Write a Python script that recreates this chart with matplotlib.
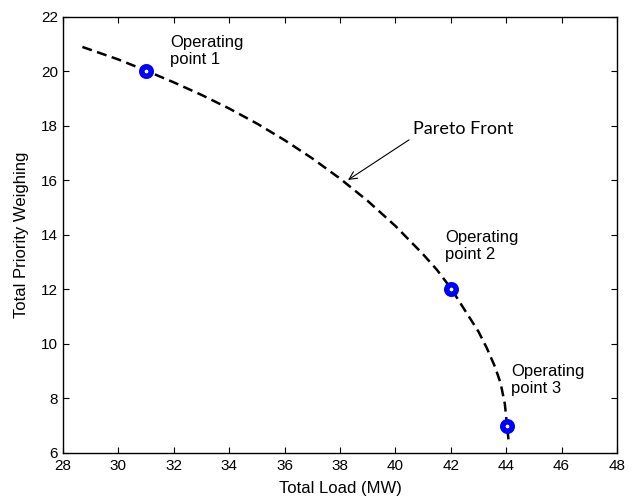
# pareto_front.py
# Pareto front of total priority weighing vs total load, three operating points.

import matplotlib
matplotlib.use('Agg')
import matplotlib.pyplot as plt

plt.rcParams['font.family'] = ['Liberation Sans', 'DejaVu Sans']

# ── Data ───────────────────────────────────────────────────────────────────────
front_load = [28.7, 30.0, 31.0, 32.0, 33.0, 34.0, 35.0, 36.0, 37.0, 38.0,
              39.0, 40.0, 41.0, 41.5, 42.0, 42.5, 43.0, 43.3, 43.6, 43.8,
              43.95, 44.03, 44.08]
front_prio = [20.90, 20.44, 20.03, 19.60, 19.14, 18.64, 18.09, 17.48, 16.81, 16.07,
              15.25, 14.33, 13.29, 12.72, 12.05, 11.25, 10.45, 9.85, 9.15, 8.55,
              7.80, 7.00, 6.50]

op_load = [31, 42, 44.03]
op_prio = [20, 12, 7]
op_labels = ['Operating\npoint 1', 'Operating\npoint 2', 'Operating\npoint 3']
op_text_xy = [(31.86, 21.34), (41.79, 14.18), (44.17, 9.27)]

x_ticks = list(range(28, 49, 2))
y_ticks = list(range(6, 23, 2))

# ── Plot ───────────────────────────────────────────────────────────────────────
fig = plt.figure(figsize=(6.32, 4.98), dpi=100)
ax = fig.add_axes([0.0997, 0.0904, 0.8766, 0.8755])

ax.plot(front_load, front_prio, color='k', lw=1.8, ls=(0, (4.0, 2.2)))
ax.plot(op_load, op_prio, ls='none', marker='o', ms=6.8, mew=4,
        mec='#0000ff', mfc='white')

for lbl, (tx, ty) in zip(op_labels, op_text_xy):
    ax.text(tx, ty, lbl, fontsize=12, ha='left', va='top')

ax.text(40.65, 17.88, 'Pareto Front', fontsize=13,
        family=['Lato', 'DejaVu Sans'], va='center', ha='left')
ax.annotate('', xy=(38.29, 16.02), xytext=(40.49, 17.49),
            arrowprops=dict(arrowstyle='->', color='k', lw=0.8,
                            shrinkA=0, shrinkB=0, mutation_scale=14))

ax.set_xlim(28, 48)
ax.set_ylim(6, 22)
ax.set_xticks(x_ticks)
ax.set_yticks(y_ticks)
ax.tick_params(direction='in', top=True, right=True, length=4, labelsize=11)
ax.tick_params(axis='x', pad=4)
for sp in ax.spines.values():
    sp.set_linewidth(1.0)

ax.set_xlabel('Total Load (MW)', fontsize=12, labelpad=6)
ax.set_ylabel('Total Priority Weighing', fontsize=12, labelpad=9)

fig.savefig('out.png', dpi=100)
plt.close(fig)
